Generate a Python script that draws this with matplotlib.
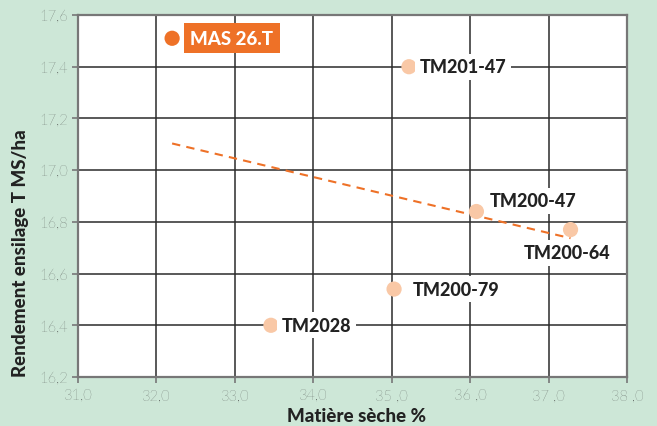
import numpy as np
import matplotlib
matplotlib.use("Agg")
import matplotlib.pyplot as plt

names = ["MAS 26.T", "TM201-47", "TM200-47", "TM200-64", "TM200-79", "TM2028"]
ms = [32.2, 35.22, 36.08, 37.28, 35.03, 33.46]
rend = [17.51, 17.40, 16.84, 16.77, 16.54, 16.40]
xticks = [31, 32, 33, 34, 35, 36, 37, 38]
xticklabels = ["31,0", "32,0", "33,0", "34,0", "35 ,0", "36 ,0", "37 ,0", "38 ,0"]
yticks = [16.2, 16.4, 16.6, 16.8, 17.0, 17.2, 17.4, 17.6]
yticklabels = ["16,2", "16,4", "16,6", "16,8", "17,0", "17,2", "17,4", "17,6"]

BG = "#cde7d7"
ORANGE = "#ee7127"
PEACH = "#f9c8a6"

plt.rcParams['font.family'] = ['Lato', 'DejaVu Sans']

fig = plt.figure(figsize=(6.57, 4.27), dpi=100, facecolor=BG)
ax = fig.add_axes([78/657, 49/427, 549/657, 362/427])
ax.set_facecolor("white")
ax.set_xlim(31, 38)
ax.set_ylim(16.2, 17.6)
ax.set_xticks(xticks)
ax.set_xticklabels(xticklabels)
ax.set_yticks(yticks)
ax.set_yticklabels(yticklabels)
ax.grid(True, color="#2b2b2b", linewidth=1.1, zorder=0)
ax.set_axisbelow(True)
for s in ax.spines.values():
    s.set_color("#777777")
    s.set_linewidth(1.6)
ax.tick_params(axis="both", colors="#777777", labelcolor="#3a3a3a", labelsize=10.5,
               length=4, width=1.2, direction="out")
for lab in ax.get_xticklabels() + ax.get_yticklabels():
    lab.set_fontweight("light")
ax.tick_params(axis="x", pad=4)

# trend line
coef = np.polyfit(ms, rend, 1)
xt = np.array([min(ms), max(ms)])
ax.plot(xt, np.polyval(coef, xt), linestyle=(0, (4, 3)), color=ORANGE, linewidth=1.5, zorder=2)

colors = [ORANGE] + [PEACH] * (len(names) - 1)
ax.scatter(ms, rend, s=120, c=colors, zorder=4, linewidths=0)

offsets = [(18, 0, "left"), (11, 0, "left"), (13, 11, "left"), (-3, -23, "center"),
           (19, 0, "left"), (11, 0, "left")]
for i, (n, x, y) in enumerate(zip(names, ms, rend)):
    dx, dy, ha = offsets[i]
    if i == 0:
        ax.annotate(n, (x, y), xytext=(dx, dy), textcoords="offset pixels", ha=ha, va="center",
                    fontsize=13.5, fontweight="black", color="white", zorder=5,
                    bbox=dict(boxstyle="square,pad=0.35", fc=ORANGE, ec="none"))
    else:
        ax.annotate(n, (x, y), xytext=(dx, dy), textcoords="offset pixels", ha=ha, va="center",
                    fontsize=13, fontweight="black", color="#222222", zorder=5,
                    bbox=dict(boxstyle="square,pad=0.25", fc="white", ec="none"))

ax.set_xlabel("Matière sèche %", fontsize=13.5, fontweight="black", color="#222222")
ax.set_ylabel("Rendement ensilage T MS/ha", fontsize=13.5, fontweight="black", color="#222222")
ax.xaxis.set_label_coords(0.508, -0.083)
ax.yaxis.set_label_coords(-0.089, 0.345)

fig.savefig("out.png", dpi=100, facecolor=BG)
